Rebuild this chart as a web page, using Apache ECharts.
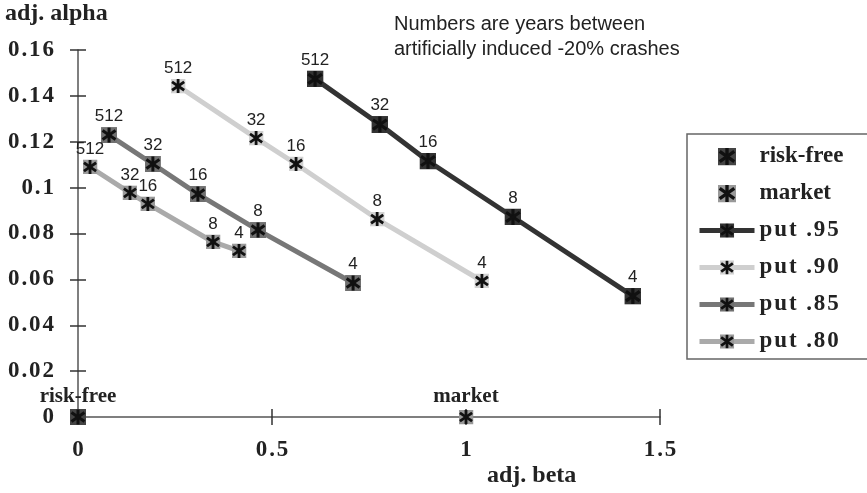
<!DOCTYPE html>
<html>
<head>
<meta charset="utf-8">
<script src="https://cdn.jsdelivr.net/npm/echarts@6/dist/echarts.min.js"></script>
<style>
  html, body { margin: 0; padding: 0; background: #fff; }
  #chart { width: 867px; height: 493px; }
</style>
</head>
<body>
<div id="chart"></div>
<script>
// years between crashes, same order for every put series
const crashYears = ['512', '32', '16', '8', '4']

const put95 = [[0.611, 0.1474], [0.778, 0.1275], [0.902, 0.1116], [1.121, 0.0872], [1.430, 0.0527]]
const put90 = [[0.258, 0.1443], [0.459, 0.1216], [0.562, 0.1103], [0.771, 0.0863], [1.041, 0.0593]]
const put85 = [[0.080, 0.1229], [0.193, 0.1103], [0.309, 0.0972], [0.464, 0.0815], [0.709, 0.0584]]
const put80 = [[0.031, 0.1090], [0.134, 0.0977], [0.180, 0.0929], [0.348, 0.0763], [0.415, 0.0724]]
const riskFree = [[0, 0]]
const market = [[1, 0]]

const xTicks = [0, 0.5, 1, 1.5]
const yTicks = [0, 0.02, 0.04, 0.06, 0.08, 0.1, 0.12, 0.14, 0.16]

const serif = '"Liberation Serif", "DejaVu Serif", serif'
const sans = '"Liberation Sans", Arial, sans-serif'

// the original typesetting is letter-spaced, fake it with hair spaces
const spaced = (s) => s.split('').join('\u200A')

// square with a black asterisk on top, as one image symbol
function mark(fill) {
  const svg = '<svg xmlns="http://www.w3.org/2000/svg" width="32" height="32" viewBox="0 0 16 16">' +
    '<rect x="0" y="0" width="16" height="16" fill="' + fill + '"/>' +
    '<g stroke="#111" stroke-width="3" stroke-linecap="butt">' +
    '<line x1="8" y1="0.5" x2="8" y2="15.5"/>' +
    '<line x1="1.5" y1="3.5" x2="14.5" y2="12.5"/>' +
    '<line x1="1.5" y1="12.5" x2="14.5" y2="3.5"/></g></svg>'
  return 'image://data:image/svg+xml;utf8,' + encodeURIComponent(svg)
}

const yearLabel = {
  show: true,
  position: 'top',
  distance: 2,
  fontFamily: sans,
  fontSize: 17,
  color: '#222',
  formatter: (p) => crashYears[p.dataIndex]
}

function putSeries(name, data, lineColor, boxColor, size) {
  return {
    name: name,
    type: 'line',
    data: data,
    clip: false,
    symbol: mark(boxColor),
    symbolSize: size,
    lineStyle: { color: lineColor, width: 5 },
    itemStyle: { color: lineColor },
    label: yearLabel,
    z: 3
  }
}

const pointName = {
  show: true, position: 'top', distance: 2, formatter: '{a}',
  fontFamily: serif, fontWeight: 'bold', fontSize: 21, color: '#222'
}

const chart = echarts.init(document.getElementById('chart'))

const axisLine = { show: true, onZero: false, lineStyle: { color: '#555', width: 1.5 } }
const tickStyle = { color: '#333', width: 1.5 }

chart.setOption({
  animation: false,
  backgroundColor: '#fff',
  grid: { left: 78, right: 207, top: 50, bottom: 76 },
  xAxis: [
    {
      type: 'value', min: 0, max: 1.5, interval: 0.5,
      axisLine: axisLine,
      axisTick: { show: true, length: 8, lineStyle: tickStyle },
      splitLine: { show: false },
      axisLabel: {
        margin: 22, fontFamily: serif, fontWeight: 'bold', fontSize: 23, color: '#222',
        formatter: (v) => xTicks.includes(v) ? spaced(String(v)) : ''
      }
    },
    {
      type: 'value', min: 0, max: 1.5, interval: 0.5, position: 'bottom',
      axisLine: { show: false },
      axisTick: { show: true, inside: true, length: 8, lineStyle: tickStyle },
      splitLine: { show: false },
      axisLabel: { show: false }
    }
  ],
  yAxis: [
    {
      type: 'value', min: 0, max: 0.16, interval: 0.02,
      axisLine: axisLine,
      axisTick: { show: true, length: 8, lineStyle: tickStyle },
      splitLine: { show: false },
      axisLabel: {
        margin: 24, fontFamily: serif, fontWeight: 'bold', fontSize: 23, color: '#222',
        formatter: (v) => {
          const t = yTicks.find((k) => Math.abs(k - v) < 1e-9)
          return t === undefined ? '' : spaced(String(t))
        }
      }
    },
    {
      type: 'value', min: 0, max: 0.16, interval: 0.02, position: 'left',
      axisLine: { show: false },
      axisTick: { show: true, inside: true, length: 8, lineStyle: tickStyle },
      splitLine: { show: false },
      axisLabel: { show: false }
    }
  ],
  legend: {
    orient: 'vertical',
    left: 687,
    top: 134,
    padding: [11, 60, 6, 10],
    itemWidth: 55,
    itemHeight: 18,
    itemGap: 14,
    backgroundColor: '#fff',
    borderColor: '#666',
    borderWidth: 1.5,
    lineStyle: { width: 5 },
    textStyle: { fontFamily: serif, fontWeight: 'bold', fontSize: 23, color: '#222' },
    formatter: (name) => name.startsWith('put') ? spaced(name) : name,
    data: ['risk-free', 'market', 'put .95', 'put .90', 'put .85', 'put .80']
  },
  graphic: [
    {
      type: 'text', left: 5, top: 2,
      style: { text: 'adj. alpha', font: 'bold 24px ' + serif, fill: '#222' }
    },
    {
      type: 'text', left: 487, top: 464,
      style: { text: 'adj. beta', font: 'bold 24px ' + serif, fill: '#222' }
    },
    {
      type: 'text', left: 394, top: 12,
      style: {
        text: 'Numbers are years between\nartificially induced -20% crashes',
        font: '20px ' + sans, fill: '#222', lineHeight: 25
      }
    }
  ],
  series: [
    {
      name: 'risk-free', type: 'scatter', data: riskFree, clip: false,
      symbol: mark('#444'), symbolSize: 16, z: 4,
      itemStyle: { opacity: 1 },
      label: pointName
    },
    {
      name: 'market', type: 'scatter', data: market, clip: false,
      symbol: mark('#999'), symbolSize: 15, z: 4,
      itemStyle: { opacity: 1 },
      label: pointName
    },
    putSeries('put .95', put95, '#333', '#333', 17),
    putSeries('put .90', put90, '#cfcfcf', '#d2d2d2', 15),
    putSeries('put .85', put85, '#777', '#707070', 16),
    putSeries('put .80', put80, '#aaa', '#9a9a9a', 15)
  ]
})
</script>
</body>
</html>
